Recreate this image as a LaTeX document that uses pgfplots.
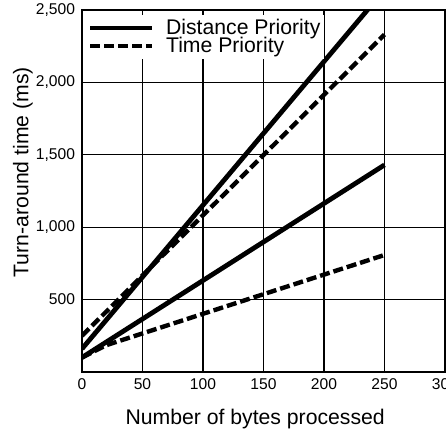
\documentclass[border=0pt]{standalone}
\usepackage{pgfplots}
\pgfplotsset{compat=1.18}
\usepackage{fontspec}
\setmainfont{Liberation Sans}
\begin{document}
\begin{tikzpicture}
\begin{axis}[
  scale only axis,
  width=181.5pt, height=181pt,
  xmin=0, xmax=300, ymin=0, ymax=2500,
  xtick={0,50,...,300},
  ytick={500,1000,1500,2000,2500},
  yticklabels={500,{1,000},{1,500},{2,000},{2,500}},
  grid=major,
  major grid style={black, line width=0.6pt},
  axis line style={black, line width=0.9pt},
  major tick length=0pt,
  tick label style={font=\fontsize{7.8}{8}\selectfont},
  /pgf/number format/assume math mode=true,
  xlabel={Number of bytes processed},
  ylabel={Turn-around time (ms)},
  label style={font=\fontsize{10.6}{12}\selectfont},
  xlabel style={at={(axis description cs:0.477,-0.13)}, anchor=center},
  ylabel style={at={(axis description cs:-0.163,0.552)}, anchor=center},
  legend style={draw=none, fill=white, at={(rel axis cs:0.015,0.988)}, anchor=north west,
    font=\fontsize{10.6}{10}\selectfont, row sep=-4pt, inner xsep=0pt, inner ysep=0pt},
  legend cell align=left,
  legend image code/.code={\draw[#1] (0cm,0cm) -- (1.08cm,0cm);},
  clip=true,
]
\addplot[black, line width=2.4pt] coordinates {(0,160) (250,2640)};
\addlegendentry{\hspace{4pt}Distance Priority}
\addplot[black, line width=2.2pt, dash pattern=on 5pt off 2pt] coordinates {(0,250) (250,2330)};
\addlegendentry{\hspace{4pt}Time Priority}
\addplot[black, line width=2.4pt, forget plot] coordinates {(0,100) (250,1430)};
\addplot[black, line width=2.2pt, dash pattern=on 5pt off 2pt, forget plot] coordinates {(0,100) (20,185) (250,808)};
\coordinate (bl) at (rel axis cs:0,0);
\coordinate (tr) at (rel axis cs:1,1);
\end{axis}
\pgfresetboundingbox
\path ([xshift=-41pt,yshift=-29.5pt]bl) rectangle ([xshift=0.5pt,yshift=5pt]tr);
\end{tikzpicture}
\end{document}
